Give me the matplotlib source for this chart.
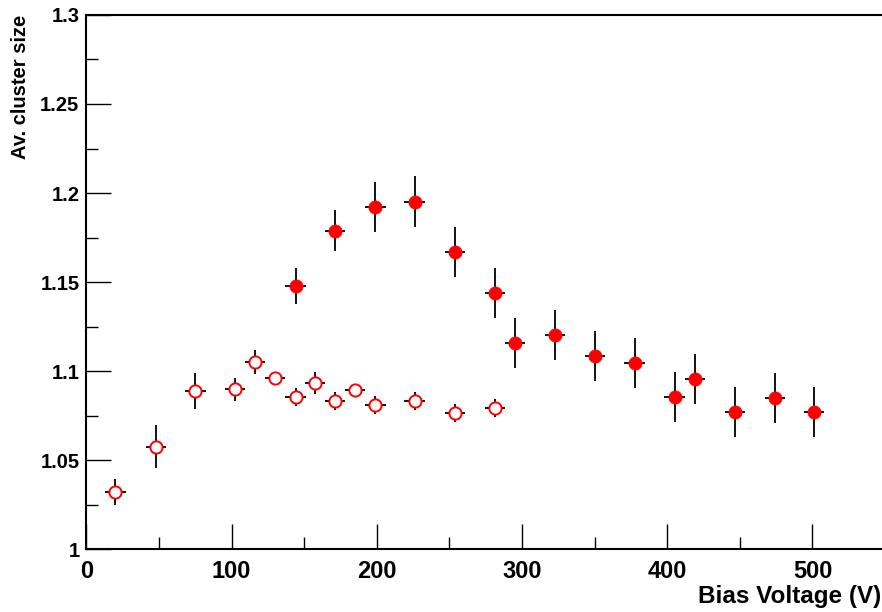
import matplotlib
matplotlib.use("Agg")
import matplotlib.pyplot as plt
from matplotlib.ticker import MultipleLocator

plt.rcParams['font.family'] = ['Liberation Sans', 'DejaVu Sans']
plt.rcParams['font.weight'] = 'bold'

# open markers (low series)
open_v = [20, 48, 75, 102.5, 116, 130, 144, 157.5, 171, 185, 199, 226, 254, 281.5]
open_size = [1.032, 1.0575, 1.0888, 1.0897, 1.1052, 1.0962, 1.0856, 1.0934,
             1.0833, 1.0893, 1.0807, 1.0831, 1.0762, 1.0792]
open_err = [0.0075, 0.012, 0.010, 0.0065, 0.0068, 0.003, 0.005, 0.0063,
            0.005, 0.003, 0.005, 0.005, 0.005, 0.005]

# filled markers (high series)
full_v = [144, 171, 199, 226, 254, 281.5, 295, 322.5, 350, 377.5, 405, 419, 446.5, 474, 501]
full_size = [1.1478, 1.1788, 1.1923, 1.1951, 1.1667, 1.1436, 1.1159, 1.1202,
             1.1084, 1.1047, 1.0854, 1.0957, 1.0768, 1.085, 1.0771]
full_err = [0.010, 0.0116, 0.014, 0.0142, 0.014, 0.014, 0.014, 0.014,
            0.014, 0.014, 0.014, 0.014, 0.014, 0.014, 0.014]

v_err = 7  # horizontal bar half-width

fig = plt.figure(figsize=(8.82, 6.12), dpi=100)
ax = fig.add_axes([0.098, 0.1029, 0.9055, 0.8726])

ax.errorbar(open_v, open_size, xerr=v_err, yerr=open_err, fmt='o', ms=8.8,
            mfc='white', mec='red', mew=1.4, ecolor='black', elinewidth=1.3,
            capsize=0, zorder=3)
ax.errorbar(full_v, full_size, xerr=v_err, yerr=full_err, fmt='o', ms=9.5,
            mfc='red', mec='red', mew=0.5, ecolor='black', elinewidth=1.3,
            capsize=0, zorder=3)

ax.set_xlim(0, 550)
ax.set_ylim(1, 1.3)
ax.xaxis.set_major_locator(MultipleLocator(100))
ax.xaxis.set_minor_locator(MultipleLocator(50))
ax.yaxis.set_minor_locator(MultipleLocator(0.025))
ax.set_yticks([1, 1.05, 1.1, 1.15, 1.2, 1.25, 1.3])
ax.set_yticklabels(['1', '1.05', '1.1', '1.15', '1.2', '1.25', '1.3'])

ax.tick_params(which='both', direction='in', top=False, right=False, width=1)
ax.tick_params(which='major', length=18)
ax.tick_params(which='minor', length=8.6)
ax.tick_params(axis='y', labelsize=14.5, pad=5)
ax.tick_params(axis='x', labelsize=17, pad=8)
for s in ax.spines.values():
    s.set_linewidth(1.5)

fig.text(0.9995, 0.014, 'Bias Voltage (V)', ha='right', va='baseline',
         fontsize=17.5, fontweight='bold')
fig.text(0.034, 0.9755, 'Av. cluster size', ha='right', va='top',
         rotation=90, fontsize=14.5, fontweight='bold')

fig.savefig('out.png', dpi=100)
